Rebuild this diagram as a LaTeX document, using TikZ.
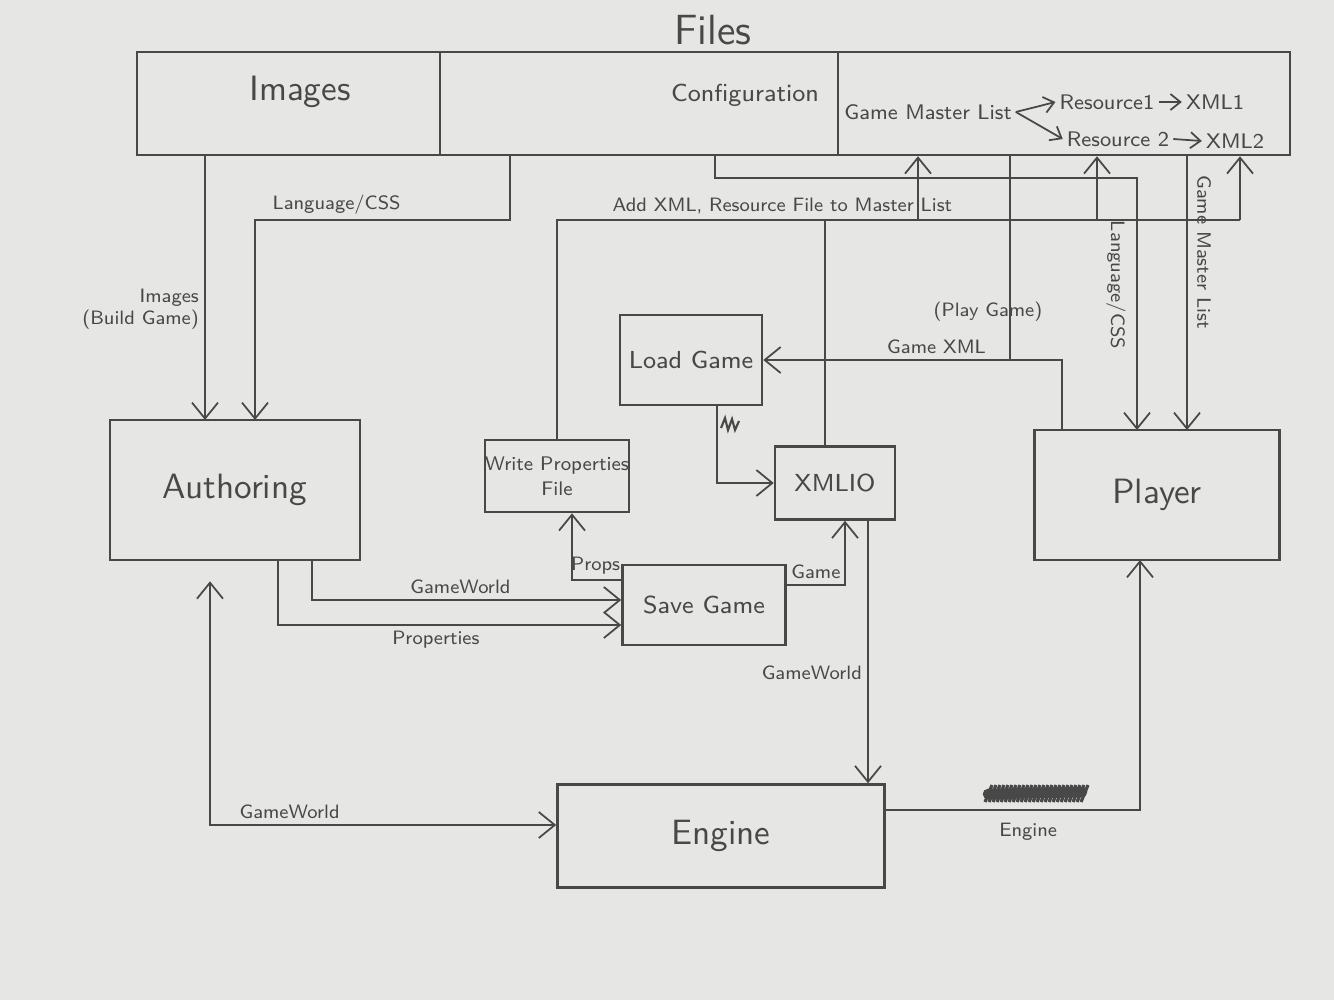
\documentclass[tikz,border=0pt]{standalone}
\usetikzlibrary{arrows.meta}

\definecolor{paper}{RGB}{230,230,228}
\definecolor{pencil}{RGB}{72,72,72}

\tikzset{
  every node/.style={font=\sffamily, text=pencil},
  box/.style={draw=pencil, line width=0.7pt, inner sep=0pt},
  part/.style={draw=pencil, line width=0.7pt, minimum height=1.03cm, inner sep=0pt},
  wire/.style={draw=pencil, line width=0.5pt},
  flow/.style={wire, ->},
  lbl/.style={font=\sffamily\fontsize{5.5}{6.5}\selectfont, inner sep=1.5pt},
  bigtext/.style={font=\sffamily\fontsize{10}{12}\selectfont},
  midtext/.style={font=\sffamily\fontsize{7}{8.5}\selectfont},
  listtext/.style={font=\sffamily\fontsize{6}{7}\selectfont, inner sep=1pt},
}

\begin{document}
\begin{tikzpicture}[x=0.01cm, y=-0.01cm, >={Straight Barb[length=1.6mm,width=2.6mm]}]
  \path[use as bounding box, fill=paper] (0,0) rectangle (1334,1000);

  % files bar
  \node[font=\sffamily\fontsize{12}{14}\selectfont] (filesT) at (713,30) {Files};
  \node[part, minimum width=3.03cm] (imgs) at (288.5,103.5) {};
  \node[part, minimum width=3.98cm] (cfg) at (639,103.5) {};
  \node[part, minimum width=4.52cm] (mst) at (1064,103.5) {};
  \node[bigtext] (imgsT) at (300,92) {Images};
  \node[midtext] (cfgT) at (745,95) {Configuration};
  \node[listtext] (gml) at (928,112) {Game Master List};
  \node[listtext] (res1) at (1107,102) {Resource1};
  \node[listtext] (xml1) at (1215,102) {XML1};
  \node[listtext] (res2) at (1118,139) {Resource 2};
  \node[listtext] (xml2) at (1235,141) {XML2};
  \draw[flow, >={Straight Barb[length=1mm,width=1.6mm]}] (gml.east) -- (res1.west);
  \draw[flow, >={Straight Barb[length=1mm,width=1.6mm]}] (gml.east) -- (res2.west);
  \draw[flow, >={Straight Barb[length=1mm,width=1.6mm]}] (res1.east) -- (xml1.west);
  \draw[flow, >={Straight Barb[length=1mm,width=1.6mm]}] (res2.east) -- (xml2.west);

  % boxes
  \node[box, bigtext, minimum width=2.5cm, minimum height=1.4cm] (auth) at (235,490) {Authoring};
  \node[box, midtext, minimum width=1.42cm, minimum height=0.9cm] (load) at (691,360) {Load Game};
  \node[box, align=center, font=\sffamily\fontsize{5.6}{7}\selectfont, minimum width=1.4cm, minimum height=0.72cm] (wpf) at (557,476) {Write Properties\\File};
  \node[box, midtext, minimum width=1.2cm, minimum height=0.73cm] (xmlio) at (835,483) {XMLIO};
  \node[box, bigtext, minimum width=2.45cm, minimum height=1.3cm] (player) at (1157,495) {Player};
  \node[box, midtext, minimum width=1.63cm, minimum height=0.8cm] (save) at (704,605) {Save Game};
  \node[box, bigtext, minimum width=3.27cm, minimum height=1.03cm] (engine) at (721,836) {Engine};

  % files -> authoring
  \coordinate (imgIn) at (205,420);
  \draw[flow] (imgIn |- imgs.south) -- (imgIn) node[lbl, pos=0.58, left, align=right] {Images\\(Build Game)};
  \coordinate (cssTurn) at (510,220);
  \coordinate (cssIn) at (255,420);
  \draw[flow] (cssTurn |- cfg.south) -- (cssTurn) -| (cssIn) node[lbl, pos=0.34, above] {Language/CSS};

  % files -> player
  \coordinate (cfgTurn) at (715,178);
  \coordinate (cssPl) at (1137,430);
  \draw[flow] (cfgTurn |- cfg.south) -- (cfgTurn) -| (cssPl);
  \node[lbl, rotate=-90] (cssPlT) at (1116,285) {Language/CSS};
  \coordinate (gmlIn) at (1187,430);
  \draw[flow] (gmlIn |- mst.south) -- (gmlIn);
  \node[lbl, rotate=-90] (gmlT) at (1204,252) {Game Master List};

  % master list bus
  \coordinate (bus1) at (918,220);
  \coordinate (bus2) at (1097,220);
  \coordinate (bus3) at (1240,220);
  \coordinate (xmlTop) at (825,447);
  \draw[wire] (wpf.north) |- (bus3) node[lbl, pos=0.665, above] {Add XML, Resource File to Master List};
  \draw[wire] (xmlTop) -- (xmlTop |- bus1);
  \foreach \b in {bus1,bus2,bus3}
    \draw[flow] (\b) -- (\b |- mst.south);

  % game xml -> load game
  \coordinate (gxml) at (1010,360);
  \coordinate (playTap) at (1062,430);
  \draw[wire] (gxml |- mst.south) -- (gxml);
  \draw[flow] (playTap) |- (load.east) node[lbl, pos=0.71, above] {Game XML};
  \node[lbl] (playT) at (988,312) {(Play Game)};

  % load game -> xmlio
  \coordinate (loadOut) at (717,405);
  \draw[flow] (loadOut) |- (xmlio.west);
  \draw[pencil, line width=0.6pt] (721,428) -- (725,418) -- (728,430) -- (732,419) -- (735,430) -- (739,421);

  % authoring -> save game
  \draw[flow] ([xshift=7.7mm]auth.south) |- ([yshift=0.5mm]save.west) node[lbl, pos=0.74, above] {GameWorld};
  \draw[flow] ([xshift=4.3mm]auth.south) |- ([yshift=-2mm]save.west) node[lbl, pos=0.73, below] {Properties};

  % save game -> write properties / xmlio
  \draw[flow] ([yshift=2.5mm]save.west) -| ([xshift=1.5mm]wpf.south) node[lbl, pos=0.26, above] {Props};
  \draw[flow] ([yshift=2mm]save.east) -| ([xshift=1mm]xmlio.south) node[lbl, pos=0.25, above] {Game};

  % xmlio -> engine
  \coordinate (gwOut) at (868,520);
  \draw[flow] (gwOut) -- (gwOut |- engine.north) node[lbl, pos=0.58, left] {GameWorld};

  % engine -> player
  \coordinate (engIn) at (1140,560);
  \draw[flow] ([yshift=2.6mm]engine.east) -| (engIn) node[lbl, pos=0.28, below=2pt] {Engine};
  \foreach \i in {0,...,24}
    \draw[pencil, line width=0.9pt] (985+\i*4,802) -- (992+\i*4,785);
  \draw[pencil, line width=3pt, line cap=round] (988,794) -- (1082,792);

  % authoring <-> engine
  \draw[wire, <->, shorten <=2mm] ([xshift=-2.5mm]auth.south) |- ([yshift=1.1mm]engine.west) node[lbl, pos=0.615, above] {GameWorld};
\end{tikzpicture}
\end{document}
